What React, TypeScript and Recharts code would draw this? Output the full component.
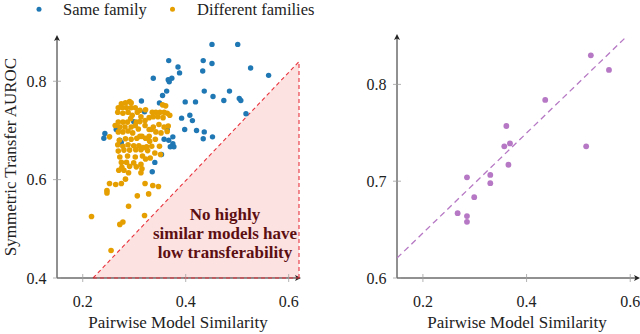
import React from "react";
import { ComposedChart, Scatter, XAxis, YAxis, Area, Line, ReferenceLine } from "recharts";

// ---------- data ----------
const sameFamily: [number, number][] = [
  [0.451, 0.875], [0.501, 0.875], [0.367, 0.842], [0.434, 0.842], [0.451, 0.836],
  [0.385, 0.829], [0.388, 0.817], [0.433, 0.821], [0.526, 0.827], [0.561, 0.812],
  [0.337, 0.806], [0.373, 0.806], [0.366, 0.803], [0.368, 0.799], [0.363, 0.780],
  [0.436, 0.780], [0.485, 0.780], [0.453, 0.769], [0.474, 0.761], [0.504, 0.765],
  [0.507, 0.761], [0.355, 0.771], [0.349, 0.756], [0.399, 0.758], [0.419, 0.758],
  [0.314, 0.760], [0.320, 0.738], [0.517, 0.734], [0.392, 0.725], [0.408, 0.731],
  [0.413, 0.720], [0.421, 0.700], [0.398, 0.702], [0.436, 0.697], [0.452, 0.687],
  [0.434, 0.683], [0.364, 0.702], [0.358, 0.682], [0.367, 0.680], [0.375, 0.673],
  [0.377, 0.667], [0.370, 0.667], [0.375, 0.687], [0.353, 0.651], [0.340, 0.635],
  [0.335, 0.616], [0.243, 0.694], [0.241, 0.684], [0.272, 0.680], [0.269, 0.705],
  [0.299, 0.718], [0.265, 0.702], [0.275, 0.675],
];

const differentFamilies: [number, number][] = [
  [0.291, 0.759], [0.294, 0.756], [0.283, 0.756], [0.275, 0.754], [0.269, 0.746],
  [0.277, 0.746], [0.285, 0.746], [0.294, 0.746], [0.302, 0.746], [0.311, 0.741],
  [0.322, 0.742], [0.335, 0.737], [0.342, 0.737], [0.350, 0.737], [0.358, 0.737],
  [0.355, 0.752], [0.361, 0.750], [0.268, 0.737], [0.278, 0.735], [0.288, 0.737],
  [0.296, 0.731], [0.306, 0.737], [0.313, 0.728], [0.321, 0.720], [0.329, 0.726],
  [0.337, 0.728], [0.346, 0.728], [0.356, 0.726], [0.364, 0.735], [0.369, 0.731],
  [0.269, 0.717], [0.278, 0.717], [0.287, 0.717], [0.293, 0.724], [0.304, 0.717],
  [0.311, 0.718], [0.263, 0.710], [0.272, 0.707], [0.282, 0.707], [0.294, 0.707],
  [0.302, 0.710], [0.321, 0.710], [0.329, 0.702], [0.337, 0.707], [0.348, 0.712],
  [0.358, 0.707], [0.366, 0.709], [0.252, 0.687], [0.269, 0.697], [0.278, 0.697],
  [0.288, 0.699], [0.297, 0.695], [0.308, 0.703], [0.315, 0.688], [0.329, 0.688],
  [0.333, 0.702], [0.342, 0.697], [0.352, 0.695], [0.364, 0.698], [0.271, 0.680],
  [0.283, 0.683], [0.294, 0.682], [0.305, 0.684], [0.311, 0.688], [0.322, 0.684],
  [0.330, 0.678], [0.341, 0.682], [0.268, 0.671], [0.278, 0.668], [0.288, 0.671],
  [0.299, 0.669], [0.309, 0.669], [0.317, 0.665], [0.324, 0.667], [0.334, 0.668],
  [0.349, 0.668], [0.269, 0.658], [0.280, 0.660], [0.291, 0.660], [0.303, 0.661],
  [0.313, 0.661], [0.326, 0.659], [0.340, 0.654], [0.351, 0.651], [0.272, 0.646],
  [0.287, 0.648], [0.302, 0.646], [0.316, 0.648], [0.322, 0.642], [0.331, 0.644],
  [0.275, 0.635], [0.285, 0.635], [0.299, 0.634], [0.313, 0.631], [0.276, 0.625],
  [0.291, 0.627], [0.304, 0.626], [0.315, 0.622], [0.270, 0.619], [0.280, 0.619],
  [0.313, 0.614], [0.289, 0.614], [0.283, 0.601], [0.252, 0.592], [0.264, 0.590],
  [0.275, 0.592], [0.321, 0.592], [0.336, 0.588], [0.347, 0.586], [0.247, 0.578],
  [0.247, 0.573], [0.306, 0.567], [0.328, 0.571], [0.289, 0.546], [0.217, 0.525],
  [0.320, 0.527], [0.272, 0.509], [0.278, 0.514], [0.255, 0.456],
];

const similarityPoints: [number, number][] = [
  [0.524, 0.830], [0.559, 0.815], [0.436, 0.784], [0.361, 0.757], [0.357, 0.736],
  [0.368, 0.739], [0.515, 0.736], [0.365, 0.717], [0.330, 0.7065], [0.285, 0.704],
  [0.330, 0.698], [0.299, 0.6835], [0.267, 0.667], [0.285, 0.664], [0.285, 0.658],
];

const thresholdLine: [number, number][] = [[0.22, 0.4], [0.62, 0.84]];
const fitLine: [number, number][] = [[0.15, 0.6206], [0.594, 0.85]];

const leftXDomain = [0.15, 0.62];
const leftYDomain = [0.4, 0.89];
const rightXDomain = [0.15, 0.615];
const rightYDomain = [0.6, 0.85];
const xTicks = [0.2, 0.4, 0.6];
const leftYTicks = [0.4, 0.6, 0.8];
const rightYTicks = [0.6, 0.7, 0.8];

const legendLabels = ["Same family", "Different families"];
const xLabel = "Pairwise Model Similarity";
const yLabel = "Symmetric Transfer AUROC";
const noteLines = ["No highly", "similar models have", "low transferability"];

// ---------- style ----------
const BLUE = "#1f77b4";
const ORANGE = "#e69f00";
const PURPLE = "#b678c4";
const RED = "#e8333c";
const FONT = "Liberation Serif";

const toPts = (a: [number, number][]) => a.map(([x, y]) => ({ x, y }));

const XTick = (p: any) => (
  <g>
    <line x1={p.x} x2={p.x} y1={p.y - 4} y2={p.y + 4} stroke="#a0a0a0" strokeWidth={0.8} />
    <text x={p.x} y={p.y + 28.5} textAnchor="middle" fontFamily={FONT} fontSize={16} fill="#222">
      {Number(p.payload.value).toFixed(1)}
    </text>
  </g>
);

const YTick = (p: any) => (
  <g>
    <line x1={p.x - 4} x2={p.x + 4} y1={p.y} y2={p.y} stroke="#a0a0a0" strokeWidth={0.8} />
    <text x={p.x - 10.5} y={p.y + 5.5} textAnchor="end" fontFamily={FONT} fontSize={16} fill="#222">
      {Number(p.payload.value).toFixed(1)}
    </text>
  </g>
);

const ArrowX = (p: any) => {
  const { x1, y1, x2, y2 } = p;
  return (
    <g>
      <line x1={x1} y1={y1} x2={x2} y2={y2} stroke="#222" strokeWidth={1} />
      <path d={`M${x2 + 2},${y2} L${x2 - 4},${y2 - 3} L${x2 - 2.5},${y2} L${x2 - 4},${y2 + 3} Z`} fill="#222" />
    </g>
  );
};

const ArrowY = (p: any) => {
  const { x1, y1, x2, y2 } = p;
  const topY = Math.min(y1, y2);
  const botY = Math.max(y1, y2);
  return (
    <g>
      <line x1={x1} y1={botY} x2={x2} y2={topY} stroke="#222" strokeWidth={1} />
      <path d={`M${x1},${topY - 2} L${x1 - 3},${topY + 4} L${x1},${topY + 2.5} L${x1 + 3},${topY + 4} Z`} fill="#222" />
    </g>
  );
};

const dot = (color: string, r: number) => (p: any) =>
  <circle cx={p.cx} cy={p.cy} r={r} fill={color} />;

export default function App() {
  const [[tx0, ty0], [tx1, ty1]] = thresholdLine;
  return (
    <div style={{ position: "absolute", left: 0, top: 0, width: 640, height: 334, background: "#fff" }}>
      <div style={{ position: "absolute", left: 0, top: 0 }}>
        <ComposedChart width={320} height={334} margin={{ top: 37, right: 21, bottom: 55, left: 56 }}>
          <XAxis type="number" dataKey="x" domain={leftXDomain} ticks={xTicks} allowDataOverflow
            height={1} axisLine={false} tickLine={false} tickSize={0} tickMargin={0} tick={XTick} interval={0} />
          <YAxis type="number" dataKey="y" domain={leftYDomain} ticks={leftYTicks} allowDataOverflow
            width={1} axisLine={false} tickLine={false} tickSize={0} tickMargin={0} tick={YTick} interval={0} />
          <Area data={toPts(thresholdLine)} dataKey="y" baseValue={leftYDomain[0]} type="linear"
            fill="#fde2e2" fillOpacity={1} stroke={RED} strokeWidth={1.1} strokeDasharray="4 3"
            isAnimationActive={false} dot={false} activeDot={false} />
          <ReferenceLine ifOverflow="visible" shape={ArrowX}
            segment={[{ x: leftXDomain[0], y: leftYDomain[0] }, { x: leftXDomain[1], y: leftYDomain[0] }]} />
          <ReferenceLine ifOverflow="visible" shape={ArrowY}
            segment={[{ x: leftXDomain[0], y: leftYDomain[0] }, { x: leftXDomain[0], y: leftYDomain[1] }]} />
          <ReferenceLine ifOverflow="visible" stroke={RED} strokeWidth={1.1} strokeDasharray="4 3"
            segment={[{ x: tx1, y: ty0 }, { x: tx1, y: ty1 }]} />
          <ReferenceLine ifOverflow="visible" stroke={RED} strokeWidth={1.1} strokeDasharray="4 3"
            segment={[{ x: tx0, y: ty0 }, { x: tx1, y: ty0 }]} />
          <Scatter data={toPts(sameFamily)} fill={BLUE} shape={dot(BLUE, 2.7)} isAnimationActive={false} />
          <Scatter data={toPts(differentFamilies)} fill={ORANGE} shape={dot(ORANGE, 2.8)} isAnimationActive={false} />
        </ComposedChart>
      </div>
      <div style={{ position: "absolute", left: 320, top: 0 }}>
        <ComposedChart width={320} height={334} margin={{ top: 36, right: 2, bottom: 55, left: 76 }}>
          <XAxis type="number" dataKey="x" domain={rightXDomain} ticks={xTicks} allowDataOverflow
            height={1} axisLine={false} tickLine={false} tickSize={0} tickMargin={0} tick={XTick} interval={0} />
          <YAxis type="number" dataKey="y" domain={rightYDomain} ticks={rightYTicks} allowDataOverflow
            width={1} axisLine={false} tickLine={false} tickSize={0} tickMargin={0} tick={YTick} interval={0} />
          <ReferenceLine ifOverflow="visible" shape={ArrowX}
            segment={[{ x: rightXDomain[0], y: rightYDomain[0] }, { x: rightXDomain[1], y: rightYDomain[0] }]} />
          <ReferenceLine ifOverflow="visible" shape={ArrowY}
            segment={[{ x: rightXDomain[0], y: rightYDomain[0] }, { x: rightXDomain[0], y: rightYDomain[1] }]} />
          <Line data={toPts(fitLine)} dataKey="y" type="linear" stroke={PURPLE} strokeWidth={1.3}
            strokeDasharray="6 4" dot={false} activeDot={false} isAnimationActive={false} />
          <Scatter data={toPts(similarityPoints)} fill={PURPLE} shape={dot(PURPLE, 2.9)} isAnimationActive={false} />
        </ComposedChart>
      </div>
      <svg width={640} height={334} style={{ position: "absolute", left: 0, top: 0, pointerEvents: "none" }}>
        <circle cx={39} cy={9.3} r={2.5} fill={BLUE} />
        <text x={63} y={14.8} fontFamily={FONT} fontSize={16.5} fill="#222">{legendLabels[0]}</text>
        <circle cx={172.5} cy={9.3} r={2.5} fill={ORANGE} />
        <text x={197} y={14.8} fontFamily={FONT} fontSize={16.5} fill="#222">{legendLabels[1]}</text>
        <text x={178} y={327.5} textAnchor="middle" fontFamily={FONT} fontSize={17} fill="#222">{xLabel}</text>
        <text x={517} y={327.5} textAnchor="middle" fontFamily={FONT} fontSize={17} fill="#222">{xLabel}</text>
        <text transform="translate(16,157) rotate(-90)" textAnchor="middle" fontFamily={FONT} fontSize={17} fill="#222">{yLabel}</text>
        {noteLines.map((t, i) => (
          <text key={i} x={225} y={220 + i * 19} textAnchor="middle" fontFamily={FONT} fontSize={17}
            fontWeight="bold" fill="#5c0f12">{t}</text>
        ))}
      </svg>
    </div>
  );
}
